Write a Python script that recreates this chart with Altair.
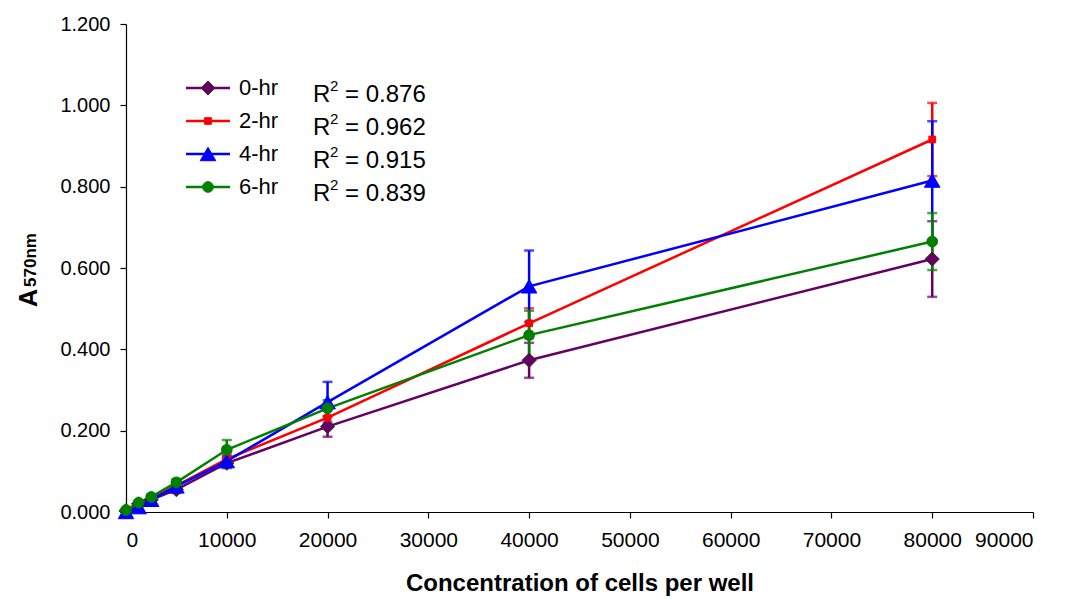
import altair as alt
import pandas as pd

# Cell concentration per well
conc = [0, 1250, 2500, 5000, 10000, 20000, 40000, 80000]

# Mean absorbance at 570 nm and standard deviation for each incubation time
series = ["0-hr", "2-hr", "4-hr", "6-hr"]
mean_0hr = [0.003, 0.020, 0.030, 0.055, 0.120, 0.210, 0.373, 0.622]
sd_0hr = [0.002, 0.004, 0.006, 0.008, 0.012, 0.025, 0.043, 0.093]
mean_2hr = [0.003, 0.018, 0.035, 0.065, 0.130, 0.232, 0.464, 0.916]
sd_2hr = [0.002, 0.004, 0.006, 0.008, 0.012, 0.020, 0.037, 0.090]
mean_4hr = [0.000, 0.012, 0.030, 0.063, 0.125, 0.270, 0.555, 0.815]
sd_4hr = [0.002, 0.004, 0.008, 0.010, 0.012, 0.050, 0.088, 0.146]
mean_6hr = [0.005, 0.023, 0.037, 0.073, 0.153, 0.255, 0.435, 0.665]
sd_6hr = [0.002, 0.004, 0.006, 0.008, 0.024, 0.020, 0.060, 0.070]
r_squared = ["0.876", "0.962", "0.915", "0.839"]

means = [mean_0hr, mean_2hr, mean_4hr, mean_6hr]
sds = [sd_0hr, sd_2hr, sd_4hr, sd_6hr]

colors = ["#660066", "#FF0000", "#0000FF", "#008000"]
shapes = ["diamond", "square", "triangle-up", "circle"]
sizes = [200, 45, 240, 115]
strokes = ["#333300", "#FF0000", "#0000FF", "#008000"]

FONT = "Liberation Sans"

xs = alt.Scale(domain=[0, 90000], nice=False, zero=True)
ys = alt.Scale(domain=[0, 1.2], nice=False)

x_axis = alt.Axis(
    values=list(range(0, 90001, 10000)), format="d",
    title="Concentration of cells per well",
    labelFont=FONT, labelFontSize=21, labelPadding=11,
    titleFont=FONT, titleFontSize=24, titleFontWeight="bold", titlePadding=21,
    tickSize=6, grid=False,
)
y_axis = alt.Axis(
    values=[0, 0.2, 0.4, 0.6, 0.8, 1.0, 1.2], format=".3f", title=None,
    labelFont=FONT, labelFontSize=20, labelPadding=10, tickSize=6, grid=False,
)

frames = []
for s, m, sd in zip(series, means, sds):
    frames.append(pd.DataFrame({
        "series": s, "conc": conc, "a": m,
        "lo": [v - e for v, e in zip(m, sd)],
        "hi": [v + e for v, e in zip(m, sd)],
    }))

err_layers, line_layers, point_layers = [], [], []
for i, df in enumerate(frames):
    base = alt.Chart(df)
    c = colors[i]
    err_layers.append(base.mark_rule(color=c, strokeWidth=2.5).encode(
        x=alt.X("conc:Q", scale=xs, axis=x_axis),
        y=alt.Y("lo:Q", scale=ys, axis=y_axis), y2="hi:Q"))
    for f in ["lo", "hi"]:
        err_layers.append(base.mark_tick(color=c, orient="horizontal", size=10, thickness=2.5).encode(
            x=alt.X("conc:Q", scale=xs), y=alt.Y(f"{f}:Q", scale=ys)))
    line_layers.append(base.mark_line(color=c, strokeWidth=2.5).encode(
        x=alt.X("conc:Q", scale=xs), y=alt.Y("a:Q", scale=ys)))
    point_layers.append(base.mark_point(
        shape=shapes[i], size=sizes[i], filled=True, fill=c, opacity=1,
        stroke=strokes[i], strokeWidth=1).encode(
        x=alt.X("conc:Q", scale=xs), y=alt.Y("a:Q", scale=ys)))

# Legend: series line with marker, label and fit statistic
one = pd.DataFrame({"k": [0]})
legend_layers = []
row_y = [64, 97, 130, 163]


def txt(x, y, s, size, **kw):
    return alt.Chart(one).mark_text(
        align="left", baseline="middle", font=FONT, fontSize=size, color="black", **kw
    ).encode(x=alt.value(x), y=alt.value(y), text=alt.value(s))


for i, s in enumerate(series):
    yy = row_y[i]
    legend_layers.append(alt.Chart(one).mark_rule(color=colors[i], strokeWidth=2.5).encode(
        x=alt.value(60), x2=alt.value(104), y=alt.value(yy)))
    legend_layers.append(alt.Chart(one).mark_point(
        shape=shapes[i], size=sizes[i], filled=True, fill=colors[i], opacity=1,
        stroke=strokes[i], strokeWidth=1).encode(x=alt.value(82), y=alt.value(yy)))
    legend_layers.append(txt(113, yy, s, 22))
    legend_layers.append(txt(187, yy + 7, "R", 24))
    legend_layers.append(txt(204, yy - 2, "2", 15))
    legend_layers.append(txt(219, yy + 7, f"= {r_squared[i]}", 24))

# Y-axis title: "A" with a smaller "570nm"
ytitle = [
    alt.Chart(one).mark_text(angle=270, font=FONT, fontSize=25, fontWeight="bold",
                             baseline="middle", color="black").encode(
        x=alt.value(-97), y=alt.value(274), text=alt.value("A")),
    alt.Chart(one).mark_text(angle=270, font=FONT, fontSize=17, fontWeight="bold",
                             baseline="middle", color="black").encode(
        x=alt.value(-95), y=alt.value(236), text=alt.value("570nm")),
]

chart = alt.layer(*err_layers, *line_layers, *point_layers, *legend_layers, *ytitle).properties(
    width=907, height=488,
    padding={"left": 126, "top": 24, "right": 32, "bottom": 87},
    autosize=alt.AutoSizeParams(type="none"),
    background="white",
).configure_view(stroke=None).configure_axis(
    domainColor="black", tickColor="black", labelColor="black", titleColor="black",
    domainWidth=1.2, tickWidth=1.2,
)

chart.save("out.html", embed_options={"renderer": "svg", "actions": False})
